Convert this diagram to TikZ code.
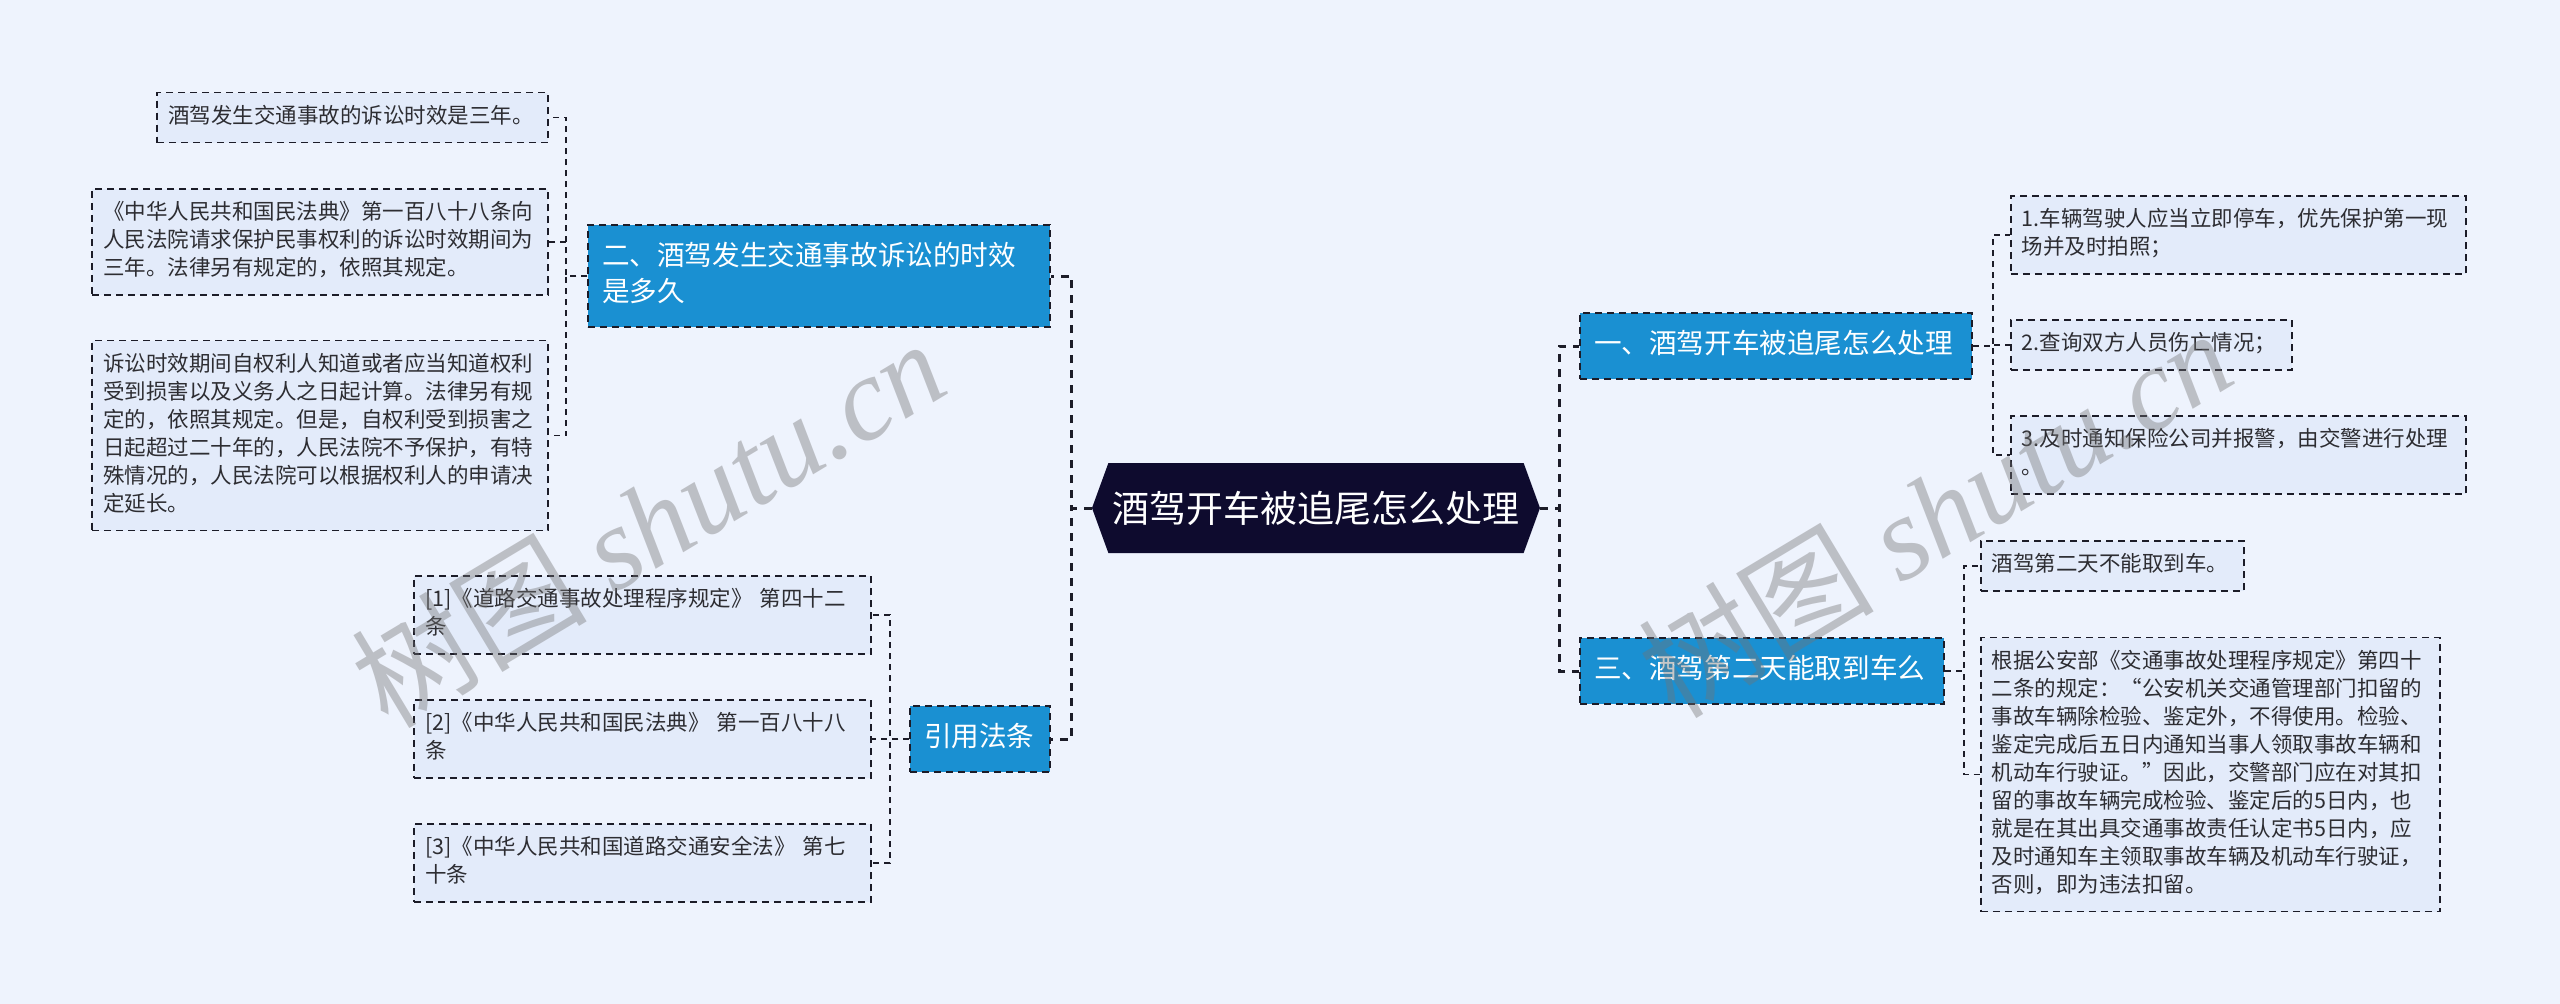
\documentclass[tikz,border=0pt]{standalone}
\usepackage{fontspec}
\setmainfont{Noto Sans CJK SC}
\newfontfamily\wmfont{Liberation Serif}
\usetikzlibrary{shapes.symbols, positioning}
\definecolor{fondo}{RGB}{238,243,253}
\definecolor{hojafill}{RGB}{227,235,250}
\definecolor{azul}{RGB}{26,144,210}
\definecolor{marino}{RGB}{14,11,46}
\definecolor{linea}{RGB}{28,28,40}
\definecolor{texto}{RGB}{45,45,50}

\begin{document}
\begin{tikzpicture}[x=1pt, y=-1pt,
  raiz/.style={signal, signal to=east and west, signal pointer angle=140, fill=marino, text=white,
    minimum width=448, minimum height=90, inner sep=0, font=\fontsize{37}{44}\selectfont},
  rama/.style={draw=linea, dash pattern=on 7pt off 5pt, line width=2pt, fill=azul, text=white,
    font=\fontsize{27.6}{36}\selectfont, align=left, text width=#1, inner xsep=14, inner ysep=15,
    execute at begin node=\strut, execute at end node=\strut},
  hoja/.style={draw=linea, dash pattern=on 7pt off 5pt, line width=1.8pt, fill=hojafill, text=texto,
    font=\fontsize{21.5}{28}\selectfont, align=left, text width=#1, inner xsep=11, inner ysep=11,
    execute at begin node=\strut, execute at end node=\strut},
  tronco/.style={draw=linea, line width=3pt, dash pattern=on 8pt off 7pt},
  enlace/.style={draw=linea, line width=1.6pt, dash pattern=on 6pt off 5pt},
  marca/.style={text=black!55, text opacity=0.4, rotate=31, font=\fontsize{118}{124}\selectfont}]
\useasboundingbox (0,0) rectangle (2560,1004);
\fill[fondo] (0,0) rectangle (2560,1004);

% Nodo central
\node[raiz] (root) at (1316,508) {酒驾开车被追尾怎么处理};

% Rama 2 (izquierda arriba)
\node[rama=434, anchor=east] (b2) at (1051,276) {二、酒驾发生交通事故诉讼的时效\\是多久};
\node[hoja=369, anchor=east] (l21) at (549,117.5) {酒驾发生交通事故的诉讼时效是三年。};
\node[hoja=434, anchor=east] (l22) at (549,242) {《中华人民共和国民法典》第一百八十八条向\\人民法院请求保护民事权利的诉讼时效期间为\\三年。法律另有规定的，依照其规定。};
\node[hoja=434, anchor=east] (l23) at (549,435.5) {诉讼时效期间自权利人知道或者应当知道权利\\受到损害以及义务人之日起计算。法律另有规\\定的，依照其规定。但是，自权利受到损害之\\日起超过二十年的，人民法院不予保护，有特\\殊情况的，人民法院可以根据权利人的申请决\\定延长。};

% Rama 4: referencias
\node[rama=112, anchor=east] (b4) at (1051,739) {引用法条};
\node[hoja=435, anchor=east] (l41) at (872,615) {[1]《道路交通事故处理程序规定》 第四十二\\条};
\node[hoja=435, anchor=east] (l42) at (872,739) {[2]《中华人民共和国民法典》 第一百八十八\\条};
\node[hoja=435, anchor=east] (l43) at (872,863) {[3]《中华人民共和国道路交通安全法》 第七\\十条};

% Rama 1 (derecha arriba)
\node[rama=364, anchor=west] (b1) at (1579,346) {一、酒驾开车被追尾怎么处理};
\node[hoja=433, anchor=west] (l11) at (2010,235) {1.车辆驾驶人应当立即停车，优先保护第一现\\场并及时拍照；};
\node[hoja=259, anchor=west] (l12) at (2010,345) {2.查询双方人员伤亡情况；};
\node[hoja=433, anchor=west] (l13) at (2010,455) {3.及时通知保险公司并报警，由交警进行处理\\。};

% Rama 3 (derecha abajo)
\node[rama=336, anchor=west] (b3) at (1579,671) {三、酒驾第二天能取到车么};
\node[hoja=241, anchor=west] (l31) at (1980,566) {酒驾第二天不能取到车。};
\node[hoja=437, anchor=west] (l32) at (1980,774.5) {根据公安部《交通事故处理程序规定》第四十\\二条的规定：“公安机关交通管理部门扣留的\\事故车辆除检验、鉴定外，不得使用。检验、\\鉴定完成后五日内通知当事人领取事故车辆和\\机动车行驶证。”因此，交警部门应在对其扣\\留的事故车辆完成检验、鉴定后的5日内，也\\就是在其出具交通事故责任认定书5日内，应\\及时通知车主领取事故车辆及机动车行驶证，\\否则，即为违法扣留。};

% Conexiones
\foreach \b in {b2, b4}
  \draw[tronco] (root.west) -- ++(-20,0) |- (\b.east);
\foreach \b in {b1, b3}
  \draw[tronco] (root.east) -- ++(19,0) |- (\b.west);
\foreach \h in {l21, l22, l23}
  \draw[enlace] (b2.west) -- ++(-21,0) |- (\h.east);
\foreach \h in {l41, l42, l43}
  \draw[enlace] (b4.west) -- ++(-19,0) |- (\h.east);
\foreach \h in {l11, l12, l13}
  \draw[enlace] (b1.east) -- ++(20,0) |- (\h.west);
\foreach \h in {l31, l32}
  \draw[enlace] (b3.east) -- ++(19,0) |- (\h.west);

% Marca de agua
\node[marca] (wm1) at (648,522) {树图 {\wmfont\itshape shutu.cn}};
\node[marca] (wm2) at (1935,512) {树图 {\wmfont\itshape shutu.cn}};
\end{tikzpicture}
\end{document}
